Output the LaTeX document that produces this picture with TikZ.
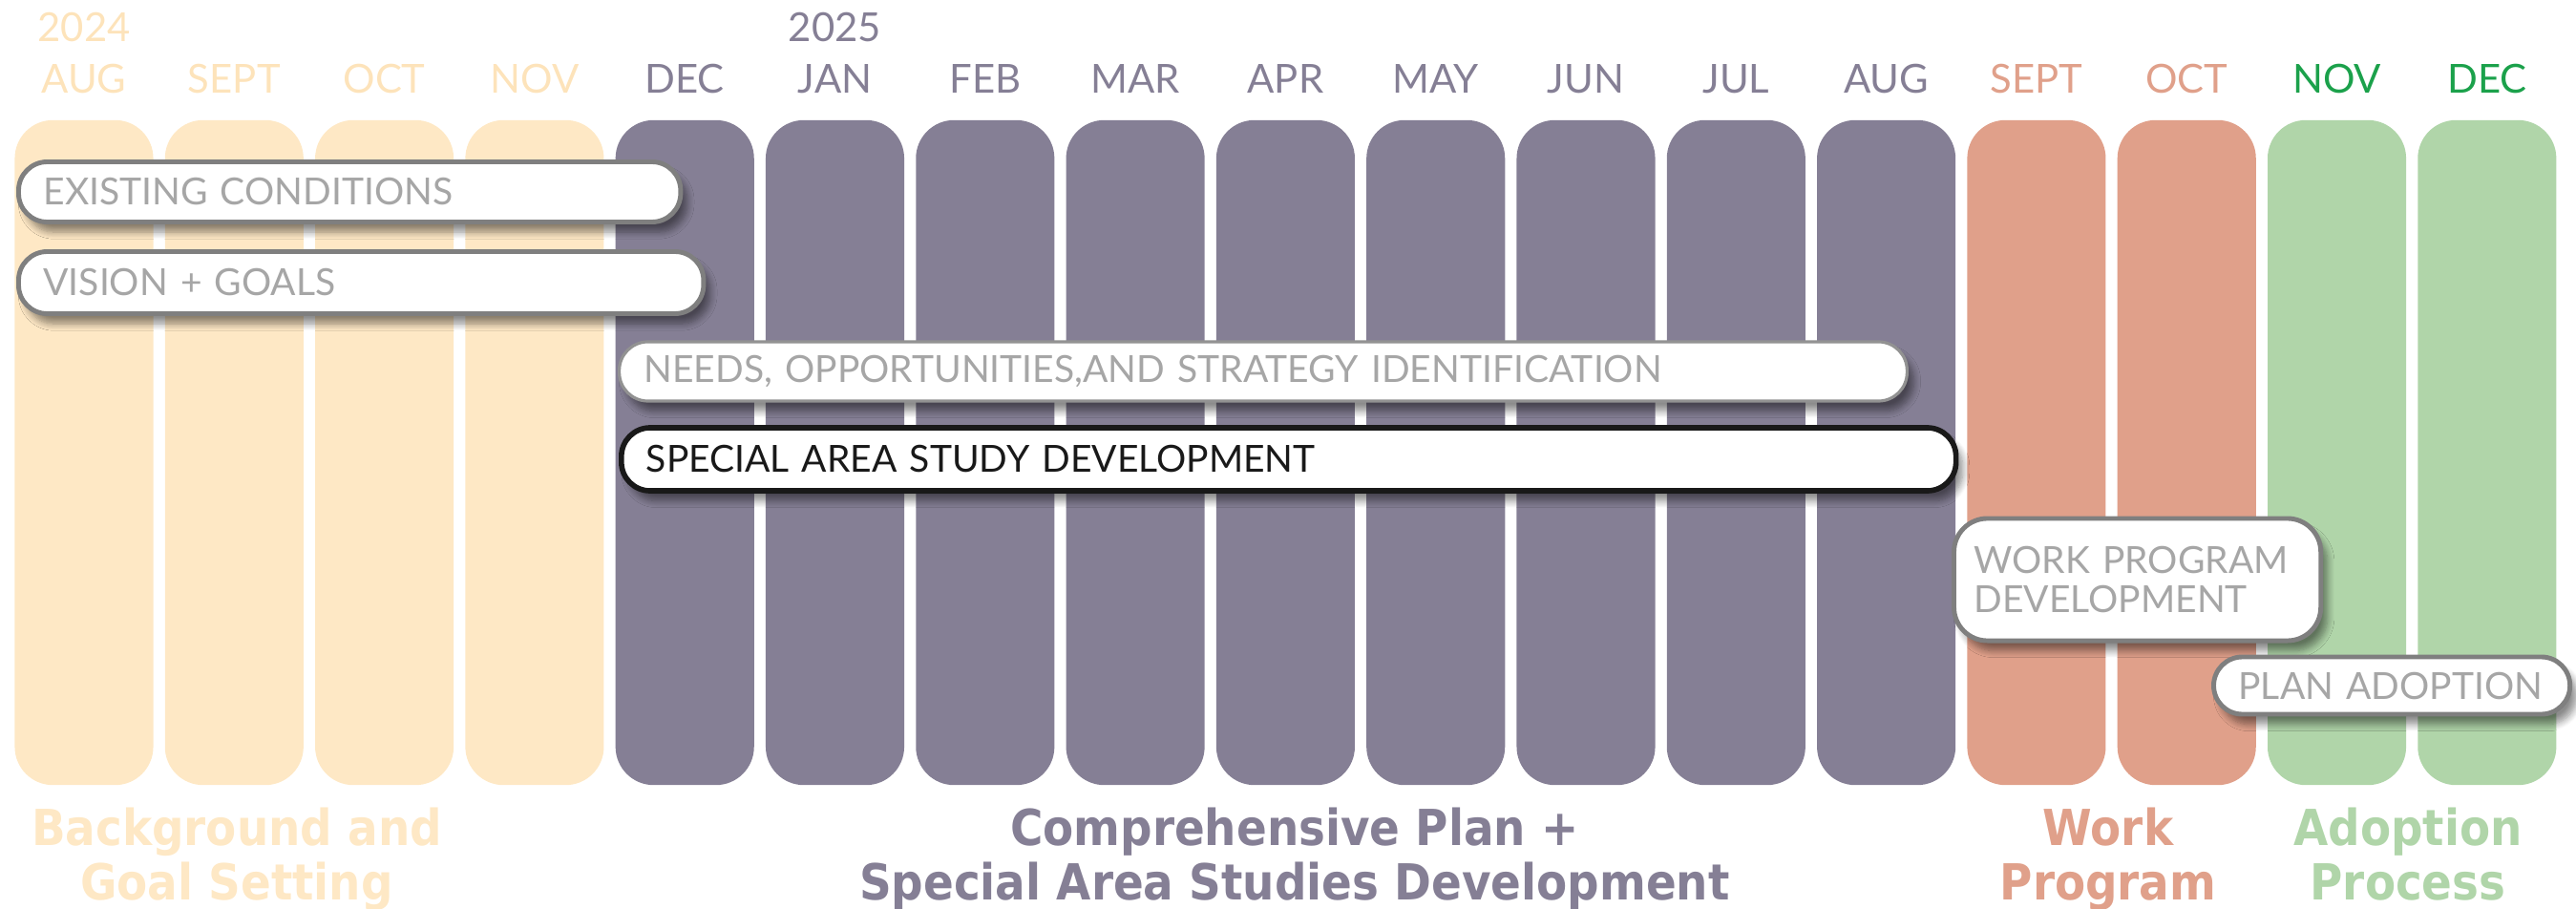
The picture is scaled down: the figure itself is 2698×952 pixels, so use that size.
\documentclass[tikz,border=0pt]{standalone}
\usepackage{fontspec}
\setmainfont{Lato}
\newfontfamily\headfont{DejaVuSansCondensed-Bold.ttf}
\usepackage{tikz}
\usetikzlibrary{positioning, shadows.blur}

\definecolor{peach}{HTML}{FEE8C5}
\definecolor{peachtext}{HTML}{FDE3BA}
\definecolor{slate}{HTML}{857F95}
\definecolor{salmon}{HTML}{E0A08A}
\definecolor{mint}{HTML}{B0D5A9}
\definecolor{leaf}{HTML}{1BA14B}
\definecolor{bargray}{HTML}{7F7F7F}
\definecolor{bartext}{HTML}{A6A6A6}

\tikzset{
  monthcol/.style={rounded corners=0.4cm, minimum width=1.45cm, minimum height=6.96cm, inner sep=0pt},
  month/.style={font=\fontsize{11.9}{12}\selectfont, anchor=base, inner sep=0pt},
  bar/.style={draw=bargray, line width=1.4pt, fill=white, rounded corners=0.3cm, anchor=west,
    align=left, inner xsep=0.26cm, inner ysep=0pt, text=bartext, font=\fontsize{11.1}{11.6}\selectfont,
    blur shadow={shadow xshift=2pt, shadow yshift=-3pt, shadow blur steps=8, shadow opacity=45}},
  phase/.style={font=\headfont\fontsize{14.8}{16.2}\selectfont, align=center, anchor=north, inner sep=0pt},
}

\begin{document}
\begin{tikzpicture}[x=0.01cm, y=-0.01cm]

    \useasboundingbox (0,0) rectangle (2698,952);

    % month columns
    \foreach \i/\c in {0/peach, 1/peach, 2/peach, 3/peach, 4/slate, 5/slate, 6/slate, 7/slate, 8/slate,
                       9/slate, 10/slate, 11/slate, 12/slate, 13/salmon, 14/salmon, 15/mint, 16/mint}
        \node[monthcol, fill=\c] (col\i) at ({88+157.3*\i},474) {};

    \foreach \i/\m/\c in {0/AUG/peachtext, 1/SEPT/peachtext, 2/OCT/peachtext, 3/NOV/peachtext,
                          4/DEC/slate, 5/JAN/slate, 6/FEB/slate, 7/MAR/slate, 8/APR/slate, 9/MAY/slate,
                          10/JUN/slate, 11/JUL/slate, 12/AUG/slate, 13/SEPT/salmon, 14/OCT/salmon,
                          15/NOV/leaf, 16/DEC/leaf}
        \node[month, text=\c] (m\i) at ([yshift=0.28cm]col\i.north) {\m};

    \node[month, text=peachtext, above=0.53cm of m0.base] (y2024) {2024};
    \node[month, text=slate, above=0.53cm of m5.base] (y2025) {2025};

    % task bars
    \node[bar, text width=6.41cm, minimum height=0.63cm] (existing) at (17,201) {EXISTING CONDITIONS};
    \node[bar, text width=6.65cm, minimum height=0.65cm] (vision) at (17,296) {VISION + GOALS};
    \node[bar, draw=bargray!85, line width=0.9pt, text width=12.96cm, minimum height=0.62cm] (needs)
        at (647,389) {NEEDS, OPPORTUNITIES,AND STRATEGY IDENTIFICATION};
    \node[bar, draw=black!90, text=black!90, line width=1.6pt, text width=13.45cm, minimum height=0.66cm] (special)
        at (648,481) {SPECIAL AREA STUDY DEVELOPMENT};
    \node[bar, inner xsep=0.21cm, text width=3.42cm, minimum height=1.28cm, rounded corners=0.35cm] (workprog)
        at (2044,607) {WORK PROGRAM\\DEVELOPMENT};
    \node[bar, text width=3.21cm, minimum height=0.6cm] (adoption) at (2316,718) {PLAN ADOPTION};

    % phase names
    \node[phase, text=peach] (background) at (248,845) {Background and\\Goal Setting};
    \node[phase, text=slate] (comp) at (1356,845) {Comprehensive Plan +\\Special Area Studies Development};
    \node[phase, text=salmon] (work) at (2208,845) {Work\\Program};
    \node[phase, text=mint] (adopt) at (2522,845) {Adoption\\Process};

\end{tikzpicture}
\end{document}
